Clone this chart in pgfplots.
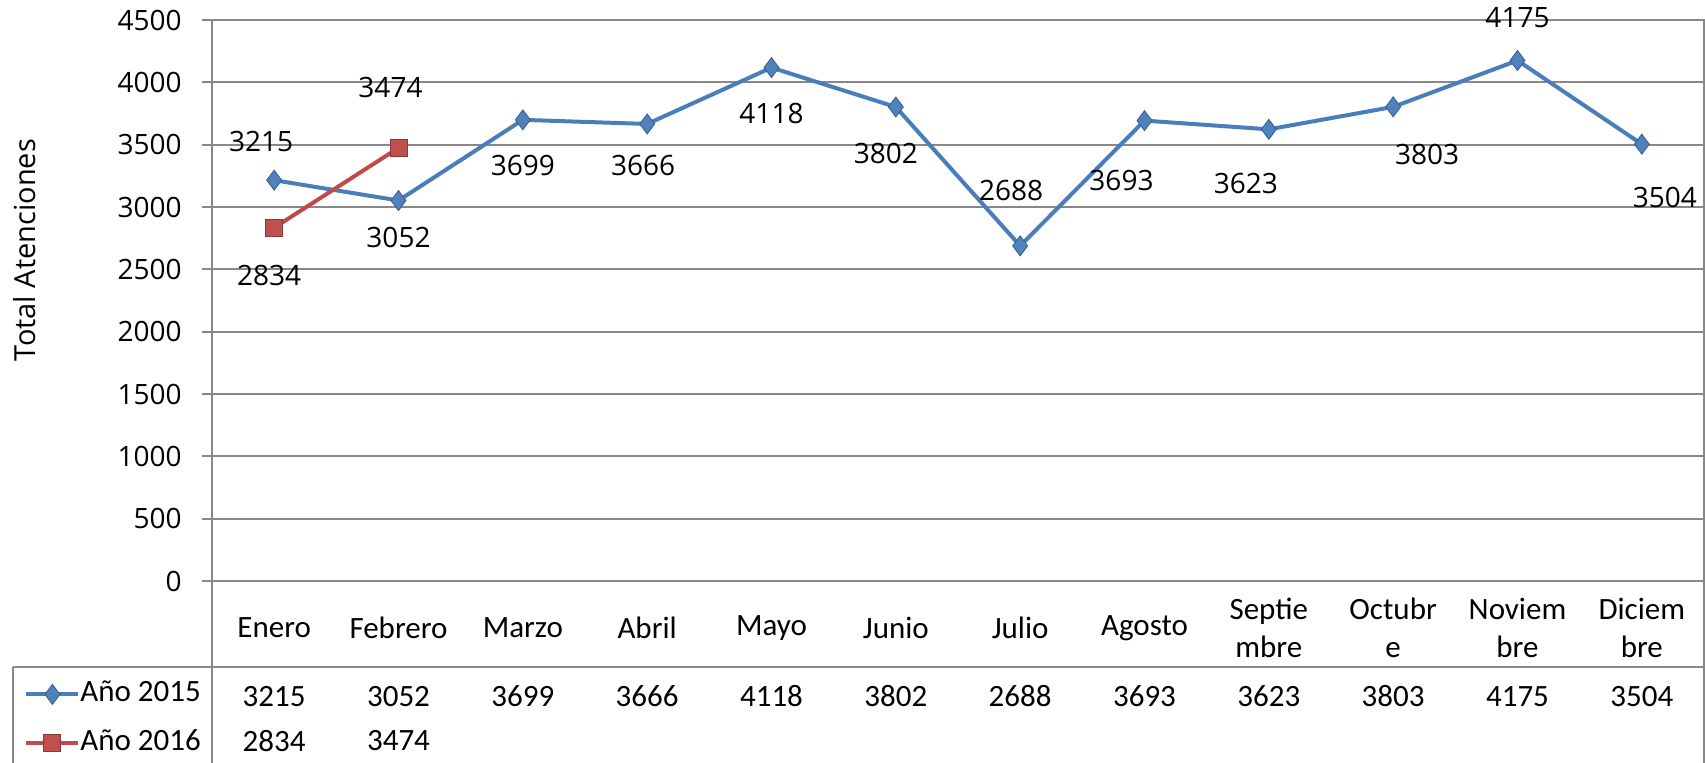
\documentclass[border=0pt]{standalone}
\usepackage{pgfplots}
\pgfplotsset{compat=1.18}
\usepackage{pgfplotstable}
\usepackage{fontspec}
\setmainfont{Open Sans}
\newfontfamily\tablefont{Carlito}
\definecolor{gridgray}{HTML}{888888}
\definecolor{blueL}{HTML}{4A7EBB}
\definecolor{blueF}{HTML}{4F81BD}
\definecolor{blueD}{HTML}{385D8A}
\definecolor{redL}{HTML}{BE4B48}
\definecolor{redF}{HTML}{C0504D}
\definecolor{redD}{HTML}{8C3836}

\pgfplotstableread{
x y dx dy
0 3215 -6.5 19.5
1 3052 0 -18.5
2 3699 0 -23
3 3666 -2 -21
4 4118 0 -23
5 3802 -5 -23
6 2688 -4.5 27.5
7 3693 -11.5 -30
8 3623 -11.5 -27
9 3803 17 -24
10 4175 0 21.5
11 3504 11.5 -26.5
}\dataA

\pgfplotstableread{
x y dx dy
0 2834 -2.5 -24
1 3474 -4 30
}\dataB

\begin{document}
\begin{tikzpicture}
\useasboundingbox (-106pt,-91pt) rectangle (746.5pt,290.5pt);
\begin{axis}[
  at={(0,0)}, anchor=south west,
  scale only axis, width=746pt, height=280.5pt,
  xmin=-0.5, xmax=11.5, ymin=0, ymax=4500,
  clip=false,
  ytick={0,500,...,4500},
  xtick={0,...,11},
  xticklabels={Enero,Febrero,Marzo,Abril,Mayo,Junio,Julio,Agosto,{Septie\\mbre},{Octubr\\e},{Noviem\\bre},{Diciem\\bre}},
  xticklabel style={font=\tablefont\fontsize{15.5}{19}\selectfont, align=center, anchor=center, yshift=-18.5pt},
  xtick style={draw=none},
  ytick pos=left,
  tick align=outside,
  major tick length=5pt,
  ytick style={color=gridgray, line width=0.9pt},
  yticklabel style={font=\fontsize{14}{17}\selectfont, anchor=east, inner sep=0pt},
  yticklabel shift=10pt,
  /pgf/number format/assume math mode=true,
  /pgf/number format/1000 sep={},
  ymajorgrids,
  grid style={gridgray, line width=0.9pt},
  axis line style={gridgray, line width=0.9pt},
  ylabel={Total Atenciones},
  ylabel style={font=\fontsize{14.5}{17}\selectfont, at={(axis description cs:-0.1253,0.59)}, anchor=center},
  legend style={at={(0,0)}, anchor=north west, xshift=-94pt, yshift=-50pt,
    draw=none, fill=none, inner sep=0pt,
    font=\tablefont\fontsize{15.5}{17}\selectfont, row sep=11.5pt,
    nodes={inner sep=0pt, text height=10pt, text depth=3pt}},
  legend cell align=left,
  legend image code/.code={\draw[mark repeat=2,mark phase=2,#1] plot coordinates {(0pt,0pt) (13pt,0pt) (26pt,0pt)};},
  /tikz/every odd column/.append style={column sep=0pt},
  nodes near coords style={font=\fontsize{14}{17}\selectfont, anchor=center},
]
\addplot[blueL, line width=2pt, mark=diamond*, mark size=5pt,
  mark options={fill=blueF, draw=blueD, line width=0.4pt},
  visualization depends on={\thisrow{dx}\as\dx},
  visualization depends on={\thisrow{dy}\as\dy},
  nodes near coords={\pgfmathprintnumber{\pgfplotspointmeta}},
  point meta=explicit,
  every node near coord/.append style={black, xshift=\dx*1pt, yshift=\dy*1pt}]
  table[x=x, y=y, meta=y] {\dataA};
\addlegendentry{Año 2015}
\addplot[redL, line width=2pt, mark=square*, mark size=4.25pt,
  mark options={fill=redF, draw=redD, line width=0.4pt},
  visualization depends on={\thisrow{dx}\as\dx},
  visualization depends on={\thisrow{dy}\as\dy},
  nodes near coords={\pgfmathprintnumber{\pgfplotspointmeta}},
  point meta=explicit,
  every node near coord/.append style={black, xshift=\dx*1pt, yshift=\dy*1pt}]
  table[x=x, y=y, meta=y] {\dataB};
\addlegendentry{Año 2016}
% data table rows
\addplot[draw=none, mark=none, forget plot, point meta=explicit,
  nodes near coords={\pgfmathprintnumber{\pgfplotspointmeta}},
  every node near coord/.append style={black, font=\tablefont\fontsize{15.5}{17}\selectfont, anchor=center, yshift=-57.7pt}]
  table[x=x, y expr=0, meta=y] {\dataA};
\addplot[draw=none, mark=none, forget plot, point meta=explicit,
  nodes near coords={\pgfmathprintnumber{\pgfplotspointmeta}},
  every node near coord/.append style={black, font=\tablefont\fontsize{15.5}{17}\selectfont, anchor=center, yshift=-80pt}]
  table[x=x, y expr=0, meta=y] {\dataB};
\end{axis}
\draw[gridgray, line width=0.9pt] (0,0) -- (0,-91pt);
\draw[gridgray, line width=0.9pt] (746pt,280.5pt) -- (746pt,-91pt);
\draw[gridgray, line width=0.9pt] (-99.5pt,-43pt) -- (746pt,-43pt);
\draw[gridgray, line width=0.9pt] (-99.5pt,-43pt) -- (-99.5pt,-91pt);
\end{tikzpicture}
\end{document}
